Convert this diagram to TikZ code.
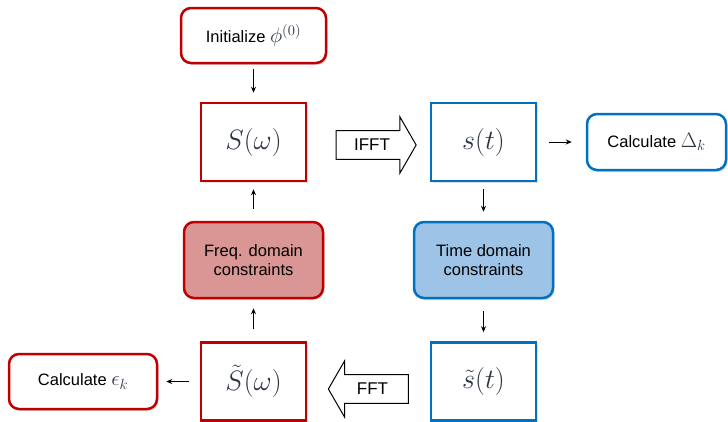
\RequirePackage{fix-cm}
\documentclass[tikz,border=0pt]{standalone}
\usepackage{fontspec}
\setmainfont{Liberation Sans}
\definecolor{BoxRed}{HTML}{C00000}
\definecolor{BoxBlue}{HTML}{0070C0}
\definecolor{FreqFill}{HTML}{D99694}
\definecolor{TimeFill}{HTML}{9DC3E6}
\definecolor{MathInk}{HTML}{2C3342}
\newcommand{\bigmath}[1]{{\fontsize{21}{21}\selectfont
  \color{MathInk}$#1$}}
\usetikzlibrary{
  arrows.meta,
  shapes.arrows,
  shadows
}

\begin{document}
\begin{tikzpicture}[
  x=1pt, y=-1pt,
  rbox/.style={
    rectangle, rounded corners=10pt,
    line width=2.5pt, fill=white,
    font=\fontsize{16.5}{19.5}\selectfont,
    align=center,
    drop shadow={shadow xshift=1.5pt,
      shadow yshift=-2pt, opacity=0.25}
  },
  sbox/.style={
    rectangle, line width=2.5pt, fill=white,
    minimum width=105pt, minimum height=78pt,
    font=\fontsize{28}{32}\selectfont,
    text=MathInk,
    drop shadow={shadow xshift=1.5pt,
      shadow yshift=-2pt, opacity=0.25}
  },
  flow/.style={
    -{Stealth[length=6pt, width=5pt]},
    line width=0.8pt
  },
  fftarrow/.style={
    single arrow, draw, line width=1pt,
    fill=white, minimum height=80pt,
    single arrow head extend=14pt,
    single arrow tip angle=120,
    inner xsep=4pt, inner ysep=8pt,
    font=\fontsize{17}{20}\selectfont
  }
]
  \useasboundingbox (0,0) rectangle (728,421);

  % Frequency column
  \node[rbox, draw=BoxRed, minimum width=145pt,
    minimum height=55pt] (init)
    at (253.5,35.5) {Initialize \bigmath{\phi^{(0)}}};
  \node[sbox, draw=BoxRed] (freqS)
    at (253.5,142) {$S(\omega)$};
  \node[rbox, draw=BoxRed, fill=FreqFill,
    minimum width=139pt, minimum height=76pt] (freqcon)
    at (253.5,260) {Freq. domain\\constraints};
  \node[sbox, draw=BoxRed] (freqT)
    at (253.5,381.5) {$\tilde{S}(\omega)$};

  % Time column
  \node[sbox, draw=BoxBlue] (timeS)
    at (483.5,142) {$s(t)$};
  \node[rbox, draw=BoxBlue, fill=TimeFill,
    minimum width=139pt, minimum height=76pt] (timecon)
    at (483.5,260) {Time domain\\constraints};
  \node[sbox, draw=BoxBlue] (timeT)
    at (483.5,381.5) {$\tilde{s}(t)$};

  % Error boxes
  \node[rbox, draw=BoxBlue, minimum width=139pt,
    minimum height=56pt] (calcdelta)
    at (656.5,142) {Calculate \bigmath{\Delta_k}};
  \node[rbox, draw=BoxRed, minimum width=148pt,
    minimum height=55pt] (calceps)
    at (83,381.5) {Calculate \bigmath{\epsilon_k}};

  % Transforms
  \node[fftarrow] (ifft) at (372,145) {IFFT};
  \node[fftarrow, shape border rotate=180] (fft)
    at (372.5,389) {FFT};

  \draw[flow, shorten <=5pt, shorten >=9pt]
    (init) -- (freqS);
  \draw[flow, shorten <=12pt, shorten >=7pt]
    (freqcon) -- (freqS);
  \draw[flow, shorten <=12pt, shorten >=9pt]
    (freqT) -- (freqcon);
  \draw[flow, shorten <=7pt, shorten >=9pt]
    (timeS) -- (timecon);
  \draw[flow, shorten <=12pt, shorten >=9pt]
    (timecon) -- (timeT);
  \draw[flow, shorten <=12pt, shorten >=14pt]
    (timeS) -- (calcdelta);
  \draw[flow, shorten <=11pt, shorten >=8pt]
    (freqT) -- (calceps);
\end{tikzpicture}
\end{document}
